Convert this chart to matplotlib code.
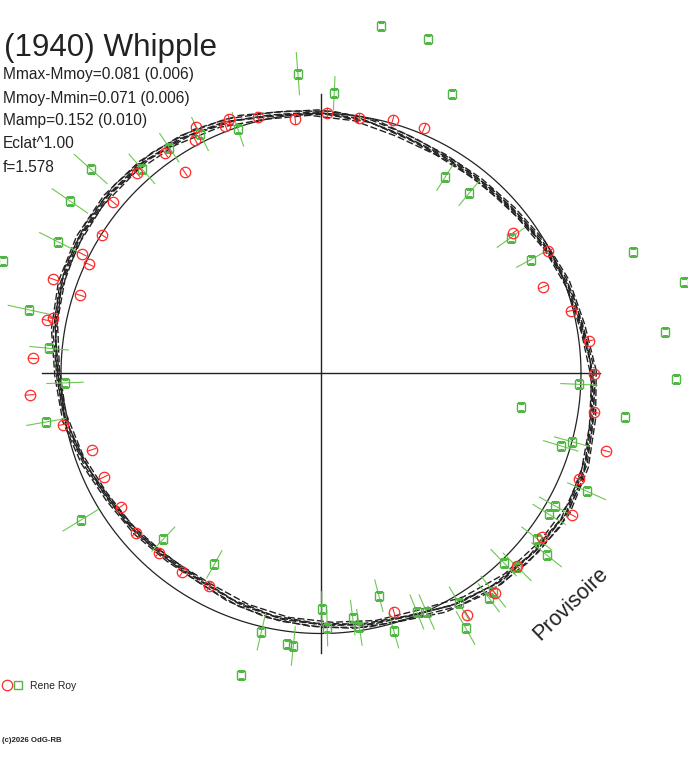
import numpy as np
import matplotlib
matplotlib.use("Agg")
import matplotlib.pyplot as plt
from matplotlib.legend_handler import HandlerTuple

# ---------------- data (phase in degrees, radius in plot units) ----------------
curve_phase = list(range(0, 360, 10))
curve_radius = [272, 265, 262, 257, 252, 249.5, 249, 251, 257, 260.5, 262.5, 268.5,
                273, 276, 277.5, 277, 275, 270, 263, 259.5, 253, 246.5, 243.5, 240,
                239.5, 244, 248, 251, 255, 258, 267, 274, 278, 282, 280, 275]

# several fitted solutions drawn on top of each other
strand_rot = [-2.5, -1.2, 0.0, 1.2, 2.5, 0.6]
strand_scale = [1.008, 0.995, 1.0, 1.004, 0.992, 1.012]

ref_radius = 260
axis_extent = 279

red_phase = [88.6, 81.5, 74.2, 67.2, 95.8, 103.8, 109.8, 111.1, 116.9, 118.3, 125.3, 124.1,
             132.6, 140.5, 147.7, 153.4, 154.8, 160.6, 162.0, 169.0, 168.4, 177.0, 184.2,
             191.2, 198.4, 205.5, 213.6, 220.7, 227.9, 235.1, 242.3, 287.0, 301.2, 308.4,
             315.5, 323.5, 330.6, 337.7, 344.8, 351.9, 359.9, 7.0, 14.1, 21.3, 28.3, 36.2]
red_r = [260.9, 258.1, 263.4, 266.1, 255.5, 264.5, 270.8, 265.4, 276.7, 265.1, 269.7, 242.8,
         272.3, 269.2, 258.9, 267.1, 256.1, 283.9, 253.5, 279.5, 273.9, 288.7, 292.1,
         262.7, 241.7, 240.8, 240.5, 244.1, 242.2, 242.2, 240.1, 249.3, 282.4, 280.3,
         274.5, 274.5, 287.9, 279.1, 295.1, 276.0, 273.3, 269.7, 257.5, 238.5, 258.2, 238.3]
red_err = [5] * len(red_r)

green_phase = [138.4, 123.9, 131.2, 116.8, 108.8, 94.4, 87.3, 80.2, 72.2, 65.0, 57.7, 50.6,
               35.6, 28.5, 21.2, 14.1, 6.9, 359.1, 350.6, 351.9, 357.6, 344.8, 343.2, 336.1,
               330.5, 328.3, 322.6, 321.2, 314.0, 315.4, 308.3, 306.8, 301.0, 299.6, 293.9,
               291.9, 285.8, 284.6, 278.6, 277.4, 271.4, 270.2, 264.2, 262.9, 257.0, 255.1,
               240.8, 226.4, 211.4, 190.0, 182.1, 174.7, 167.7, 160.5, 153.4, 145.5]
green_r = [308.0, 272.0, 272.0, 268.3, 257.9, 300.7, 280.5, 352.6, 350.8, 308.8, 231.9, 233.2,
           233.3, 238.9, 335.0, 374.6, 346.5, 355.0, 202.4, 306.8, 258.2, 259.8, 250.4, 290.6,
           268.5, 268.2, 271.7, 289.4, 263.0, 275.4, 278.0, 280.2, 268.1, 292.8, 260.9,
           257.0, 267.3, 229.6, 256.7, 246.2, 254.6, 235.2, 273.9, 272.9, 265.0, 311.7,
           218.6, 228.6, 281.5, 279.2, 256.2, 273.1, 298.9, 336.9, 294.2, 304.7]
green_err = [22.5, 17.7, 20.0, 19.0, 18.2, 21.6, 17.2, 0, 0, 0, 15.8, 16.3,
             17.1, 16.8, 0, 0, 0, 0, 0, 0, 18.7, 18.4, 18.5, 21.3,
             18.0, 19.5, 19.4, 19.5, 18.8, 20.1, 20.2, 18.0, 19.4, 19.3, 19.2,
             18.8, 18.4, 16.8, 18.6, 18.0, 18.4, 17.5, 19.8, 0, 19.2, 0,
             16.2, 17.1, 21.3, 20.2, 18.7, 19.8, 21.8, 0, 21.0, 22.0]

title = "(1940) Whipple"
stats = ["Mmax-Mmoy=0.081 (0.006)", "Mmoy-Mmin=0.071 (0.006)", "Mamp=0.152 (0.010)",
         "Eclat^1.00", "f=1.578"]
observer = "Rene Roy"

# ---------------- figure ----------------
W, H = 688, 768
fig = plt.figure(figsize=(W / 100, H / 100), dpi=100)
cx, cy = 321, 373.5
R = 400
ax = fig.add_axes([(cx - R) / W, (H - cy - R) / H, 2 * R / W, 2 * R / H], projection="polar")
ax.set_rlim(0, R)
ax.axis("off")

ink = "#222222"
red = "#ff2a2a"
green = "#52b646"
green_bar = "#6cc850"

# crosshair
for a in (0, 90, 180, 270):
    ax.plot([np.deg2rad(a)] * 2, [0, axis_extent], color=ink, lw=1.0)

# reference circle
tt = np.linspace(0, 2 * np.pi, 721)
ax.plot(tt, np.full_like(tt, ref_radius), color=ink, lw=0.9)

# fitted curves
cp = np.deg2rad(np.array(curve_phase + [curve_phase[0] + 360], dtype=float))
cr = np.array(curve_radius + [curve_radius[0]], dtype=float)
for i, (rot, sc) in enumerate(zip(strand_rot, strand_scale)):
    ax.plot(cp + np.deg2rad(rot), cr * sc, color=ink, lw=1.0,
            linestyle=(i * 1.5, (5, 2)))

# data
rth = np.deg2rad(red_phase)
gth = np.deg2rad(green_phase)
ax.errorbar(gth, green_r, yerr=green_err, fmt="none", ecolor=green_bar, elinewidth=0.8)
ax.errorbar(rth, red_r, yerr=red_err, fmt="none", ecolor=red, elinewidth=0.8)
hg, = ax.plot(gth, green_r, "s", mfc="none", mec=green, ms=6.0, mew=1.0)
hr, = ax.plot(rth, red_r, "o", mfc="none", mec=red, ms=7.5, mew=0.9)

# texts
fig.text(4 / W, 1 - 56 / H, title, fontsize=22.6, color=ink, family="Liberation Sans",
         va="baseline", ha="left")
for k, s in enumerate(stats):
    fig.text(3 / W, 1 - (79.5 + 23 * k) / H, s, fontsize=11.2, color=ink,
             family="Liberation Sans", va="baseline", ha="left")

fig.text(571 / W, 1 - 604 / H, "Provisoire", fontsize=15.5, color=ink,
         family="Liberation Sans", rotation=44, ha="center", va="center",
         rotation_mode="anchor")

leg = fig.legend(handles=[(hr, hg)], labels=[observer],
                 handler_map={tuple: HandlerTuple(ndivide=None, pad=0)},
                 loc="center left", bbox_to_anchor=(1 / W, 1 - 686 / H),
                 frameon=False, fontsize=7.5, handlelength=2.2, handletextpad=0.55,
                 borderpad=0, borderaxespad=0, numpoints=1)
for t in leg.get_texts():
    t.set_color(ink)
    t.set_family("Liberation Sans")

fig.text(2 / W, 1 - 742 / H, "(c)2026 OdG-RB", fontsize=5.6, weight="bold", color=ink,
         family="Liberation Sans", va="baseline", ha="left")

fig.savefig("out.png", dpi=100)
